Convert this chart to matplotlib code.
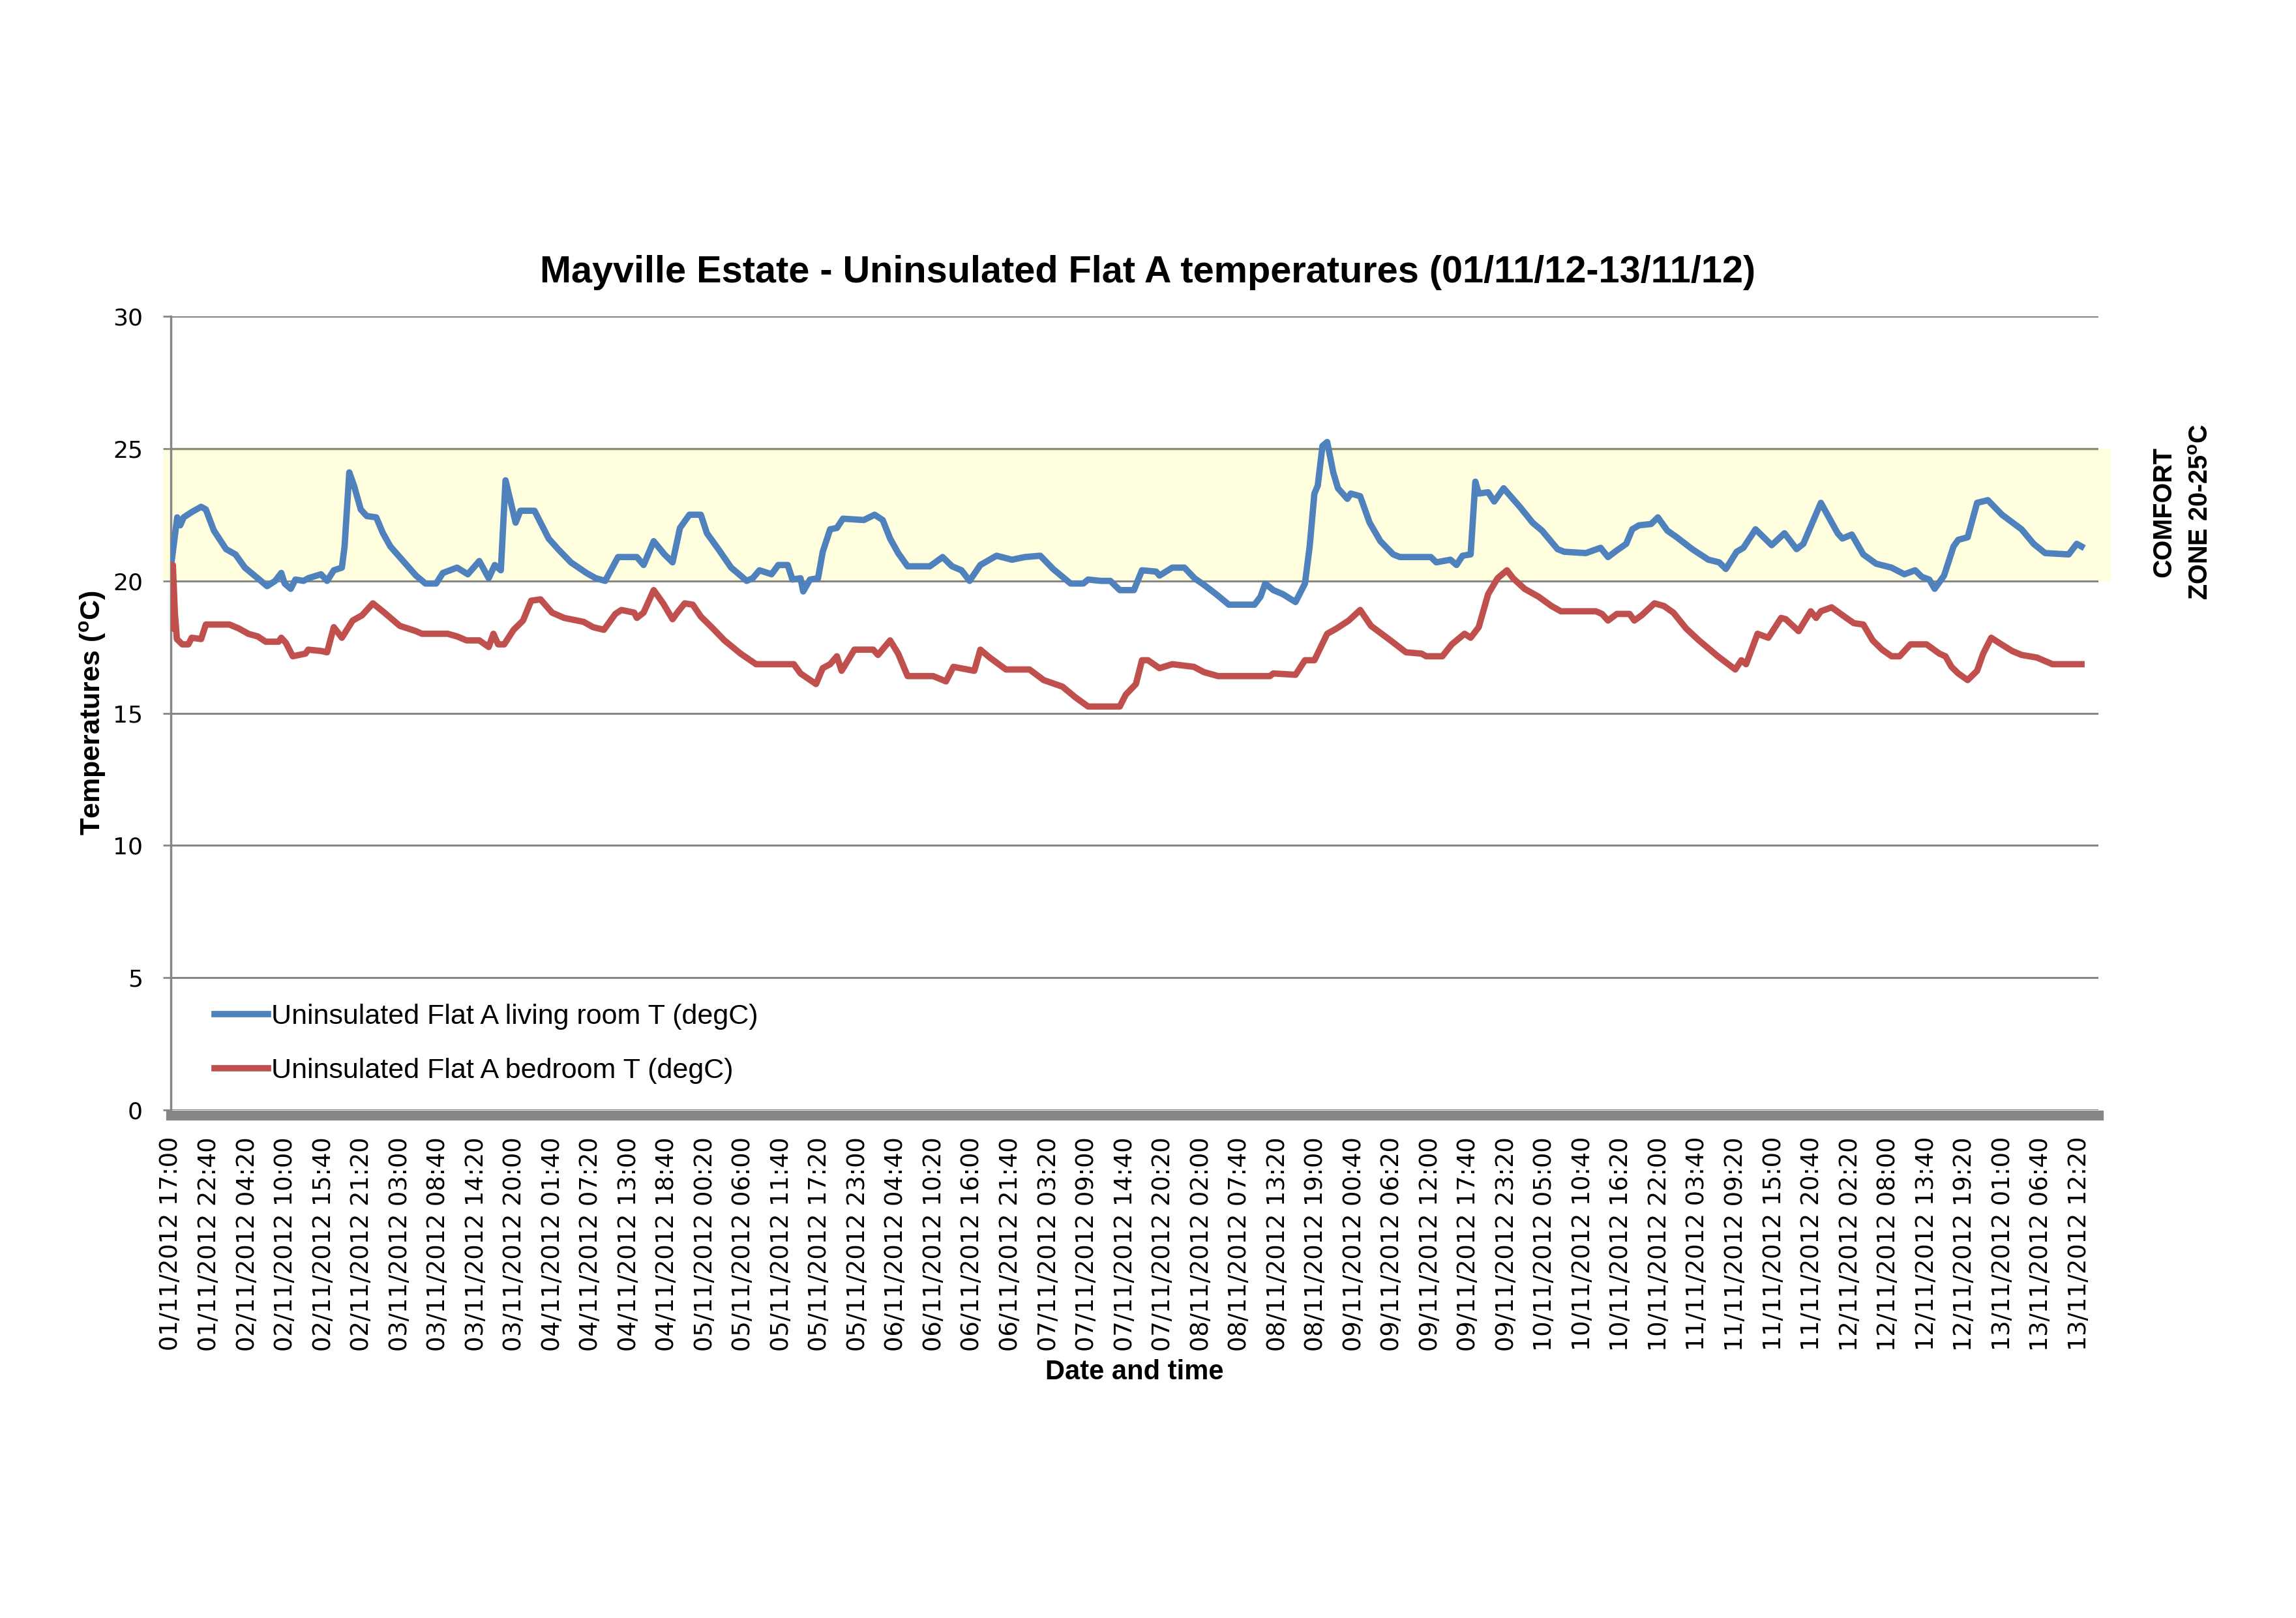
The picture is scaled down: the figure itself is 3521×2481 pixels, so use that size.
import matplotlib
matplotlib.use('Agg')
import matplotlib.pyplot as plt
from matplotlib import font_manager
import numpy as np
import pandas as pd

# --- DATA (hours after 01/11/2012 17:00, temperature degC) ---
START = pd.Timestamp('2012-11-01 17:00')

living_t = [0.0, 0.95, 1.4, 1.9, 3.1, 4.5, 5.2, 6.4, 8.2, 9.6, 11.0, 12.9, 14.3, 15.5, 16.4, 16.9,
            17.8, 18.5, 19.7, 20.4, 22.3, 23.2, 24.2, 25.4, 25.8, 26.5, 27.2, 28.2, 29.1, 30.5, 31.5,
            32.6, 34.5, 36.4, 37.8, 39.4, 40.4, 42.5, 44.1, 45.8, 47.2, 48.1, 49.0, 49.7, 51.2, 51.9,
            54.0, 56.1, 57.5, 59.4, 61.7, 63.1, 64.5, 66.4, 69.2, 70.2, 71.7, 73.3, 74.5, 75.6, 77.0,
            78.7, 79.6, 81.3, 83.2, 84.6, 85.5, 86.4, 87.4, 89.2, 90.2, 91.6, 92.3, 93.5, 93.9, 94.9,
            96.1, 96.8, 97.9, 98.9, 99.8, 102.9, 104.5, 105.7, 106.8, 108.0, 109.4, 112.7, 114.6,
            116.0, 117.4, 118.6, 120.2, 122.6, 124.9, 126.8, 129.1, 131.0, 133.6, 135.5, 136.2, 138.1,
            139.5, 140.9, 143.0, 144.2, 146.3, 146.8, 148.7, 150.5, 152.0, 153.4, 155.2, 157.1, 160.9,
            161.8, 162.5, 163.7, 165.1, 167.0, 168.4, 169.1, 169.8, 170.3, 171.0, 171.7, 172.6, 173.3,
            174.7, 175.2, 176.6, 178.0, 179.6, 181.5, 182.5, 187.1, 187.9, 190.0, 190.9, 191.8, 193.0,
            193.7, 194.2, 195.6, 196.5, 197.9, 200.3, 202.2, 203.6, 205.9, 206.9, 210.1, 212.3, 213.4,
            214.7, 216.1, 217.0, 218.0, 219.8, 220.8, 222.2, 223.6, 225.9, 228.3, 229.9, 230.9, 232.5,
            233.5, 235.3, 237.7, 239.6, 241.4, 242.4, 245.0, 247.5, 248.2, 249.6, 251.3, 253.2, 255.5,
            257.4, 259.0, 260.0, 261.1, 261.9, 263.3, 264.7, 265.4, 266.8, 268.2, 269.8, 271.9, 274.8,
            276.6, 278.3, 281.8, 283.0, 283.7]
living_T = [20.5, 22.4, 22.1, 22.4, 22.6, 22.8, 22.7, 21.9, 21.2, 21.0, 20.5, 20.1, 19.8, 20.0, 20.3, 19.9,
            19.7, 20.05, 20.0, 20.1, 20.25, 20.0, 20.4, 20.5, 21.3, 24.1, 23.6, 22.7, 22.45, 22.4, 21.8,
            21.3, 20.75, 20.2, 19.9, 19.9, 20.3, 20.5, 20.25, 20.75, 20.1, 20.6, 20.4, 23.8, 22.2, 22.65,
            22.65, 21.6, 21.2, 20.7, 20.3, 20.1, 20.0, 20.9, 20.9, 20.6, 21.5, 21.0, 20.7, 22.0, 22.5,
            22.5, 21.8, 21.2, 20.5, 20.2, 20.0, 20.1, 20.4, 20.25, 20.6, 20.6, 20.05, 20.1, 19.6, 20.05,
            20.1, 21.1, 21.95, 22.0, 22.35, 22.3, 22.5, 22.3, 21.6, 21.05, 20.55, 20.55, 20.9,
            20.55, 20.4, 20.0, 20.6, 20.95, 20.8, 20.9, 20.95, 20.45, 19.9, 19.9, 20.05, 20.0,
            20.0, 19.65, 19.65, 20.4, 20.35, 20.2, 20.5, 20.5, 20.1, 19.85, 19.5, 19.1, 19.1,
            19.4, 19.9, 19.65, 19.5, 19.2, 19.9, 21.3, 23.3, 23.6, 25.1, 25.25, 24.1, 23.5,
            23.1, 23.3, 23.2, 22.2, 21.5, 21.0, 20.9, 20.9, 20.7, 20.8, 20.6, 20.95, 21.0,
            23.75, 23.3, 23.35, 23.0, 23.5, 22.8, 22.2, 21.9, 21.2, 21.1, 21.05, 21.25, 20.9,
            21.15, 21.4, 21.95, 22.1, 22.15, 22.4, 21.9, 21.65, 21.2, 20.8, 20.7, 20.45, 21.1,
            21.25, 21.95, 21.35, 21.8, 21.2, 21.4, 22.95, 21.8, 21.6, 21.75, 21.0, 20.65, 20.5,
            20.25, 20.4, 20.15, 20.05, 19.7, 20.2, 21.3, 21.55, 21.65, 22.95, 23.05, 22.5, 21.95,
            21.4, 21.05, 21.0, 21.4, 21.3]

bed_t = [0.0, 0.3, 0.6, 0.9, 1.7, 2.6, 3.1, 4.5, 5.2, 8.7, 10.1, 11.5, 12.9, 14.1, 16.0, 16.4, 17.1,
         18.1, 20.0, 20.4, 22.3, 23.2, 24.2, 25.4, 27.0, 28.4, 30.0, 31.7, 34.0, 36.4, 37.3, 41.1,
         42.5, 43.9, 45.8, 47.2, 47.9, 48.6, 49.5, 50.9, 52.3, 53.5, 54.9, 56.6, 58.4, 61.3, 62.7,
         64.3, 66.0, 66.9, 68.8, 69.2, 70.2, 71.7, 73.1, 74.5, 75.2, 76.3, 77.5, 78.7, 80.3, 82.2,
         84.6, 86.9, 92.5, 93.5, 95.8, 96.8, 97.9, 98.9, 99.6, 101.5, 104.3, 105.0, 106.8, 108.0,
         109.4, 113.2, 115.1, 116.2, 119.3, 120.2, 121.6, 124.0, 127.5, 129.6, 132.4, 134.3, 136.2,
         140.9, 141.8, 143.3, 144.2, 145.1, 146.8, 148.7, 151.9, 153.4, 155.5, 163.2, 163.7, 167.0,
         168.4, 169.8, 171.7, 173.1, 174.9, 176.6, 178.2, 181.1, 183.4, 185.7, 186.4, 188.8, 190.2,
         192.1, 193.0, 194.2, 195.6, 197.0, 198.4, 199.3, 201.0, 203.1, 205.0, 206.4, 211.6, 212.5,
         213.4, 214.7, 216.6, 217.3, 218.4, 220.3, 221.7, 223.1, 225.0, 226.9, 229.7, 232.3, 233.2,
         233.9, 235.6, 237.2, 239.1, 239.8, 241.7, 243.5, 244.3, 245.0, 246.6, 248.5, 249.9, 251.3,
         252.7, 254.1, 255.5, 256.7, 258.3, 260.7, 262.6, 263.5, 264.4, 265.4, 266.8, 268.2, 269.1,
         270.3, 271.5, 273.4, 274.8, 277.1, 278.0, 279.4, 283.7]
bed_T = [18.2, 20.6, 18.8, 17.8, 17.6, 17.6, 17.85, 17.8, 18.35, 18.35, 18.2, 18.0, 17.9, 17.7, 17.7, 17.85, 17.65,
         17.15, 17.25, 17.4, 17.35, 17.3, 18.25, 17.85, 18.5, 18.7, 19.15, 18.8, 18.3, 18.1, 18.0, 18.0,
         17.9, 17.75, 17.75, 17.5, 18.0, 17.6, 17.6, 18.15, 18.5, 19.25, 19.3, 18.8, 18.6, 18.45, 18.25,
         18.15, 18.75, 18.9, 18.8, 18.6, 18.8, 19.65, 19.15, 18.55, 18.8, 19.15, 19.1, 18.65, 18.25, 17.75,
         17.25, 16.85, 16.85, 16.5, 16.1, 16.7, 16.85, 17.15, 16.6, 17.4, 17.4, 17.2, 17.75, 17.25,
         16.4, 16.4, 16.2, 16.75, 16.6, 17.4, 17.1, 16.65, 16.65, 16.25, 16.0, 15.6, 15.25,
         15.25, 15.7, 16.1, 17.0, 17.0, 16.7, 16.85, 16.75, 16.55, 16.4, 16.4, 16.5, 16.45,
         17.0, 17.0, 18.0, 18.2, 18.5, 18.9, 18.3, 17.75, 17.3, 17.25, 17.15, 17.15, 17.6,
         18.0, 17.85, 18.25, 19.5, 20.1, 20.4, 20.1, 19.7, 19.4, 19.05, 18.85, 18.85, 18.75,
         18.5, 18.75, 18.75, 18.5, 18.7, 19.15, 19.05, 18.8, 18.2, 17.75, 17.15, 16.65, 17.0,
         16.85, 18.0, 17.85, 18.6, 18.55, 18.1, 18.85, 18.6, 18.85, 19.0, 18.65, 18.4, 18.35,
         17.75, 17.4, 17.15, 17.15, 17.6, 17.6, 17.25, 17.15, 16.75, 16.5, 16.25, 16.6, 17.25,
         17.85, 17.65, 17.35, 17.2, 17.1, 17.0, 16.85, 16.85]

series_names = ['Uninsulated Flat A living room T (degC)', 'Uninsulated Flat A bedroom T (degC)']
series_colors = ['#4F81BD', '#C0504D']

# tick labels every 5h40 from 01/11/2012 17:00 to 13/11/2012 12:20
tick_hours = np.arange(51) * 340 / 60.0
tick_labels = [(START + pd.Timedelta(minutes=340 * k)).strftime('%d/%m/%Y %H:%M') for k in range(51)]


def pick_font(names):
    for n in names:
        try:
            font_manager.findfont(n, fallback_to_default=False)
            return n
        except Exception:
            pass
    return 'DejaVu Sans'


NARROW = pick_font(['Liberation Sans Narrow', 'Liberation Sans'])
GRID = '#868686'

fig = plt.figure(figsize=(35.21, 24.81), dpi=100)
ax = fig.add_axes([0.0744, 0.314, 0.8395, 0.4905])

# comfort zone band
ax.axhspan(20, 25, xmin=-0.004, xmax=1.006, color='#FFFFE0', zorder=0, clip_on=False)

ax.plot(living_t, living_T, color=series_colors[0], lw=7, label=series_names[0], zorder=3,
        solid_joinstyle='round')
ax.plot(bed_t, bed_T, color=series_colors[1], lw=7, label=series_names[1], zorder=4,
        solid_joinstyle='round')

ax.set_xlim(0, 286.2)
ax.set_ylim(0, 30)
ax.set_yticks([0, 5, 10, 15, 20, 25, 30])
ax.yaxis.grid(True, color=GRID, lw=2.2, zorder=1)
ax.set_axisbelow(True)
ax.axhline(25, color='#8E8E72', lw=2.4, zorder=1.5)

ax.set_xticks(tick_hours)
ax.set_xticklabels(tick_labels)
ax.tick_params(axis='x', length=0, pad=24, labelrotation=90, labelsize=26.5)
ax.tick_params(axis='y', labelsize=26, length=9, width=2, color=GRID, pad=22, direction='out')
for lab in ax.get_xticklabels() + ax.get_yticklabels():
    lab.set_family('DejaVu Sans')

for s in ['top', 'right']:
    ax.spines[s].set_visible(False)
ax.spines['left'].set_color(GRID)
ax.spines['left'].set_linewidth(2.5)
ax.spines['bottom'].set_color(GRID)
ax.spines['bottom'].set_linewidth(11)
ax.spines['bottom'].set_position(('outward', 5.5))

ax.set_xlabel('Date and time', fontsize=30, fontweight='bold', family=NARROW)
ax.xaxis.label.set_va('center')
ax.xaxis.set_label_coords(0.5, -0.330)
ax.set_ylabel(r'Temperatures ($\mathregular{^{o}}$C)', fontsize=31, fontweight='bold',
              family=NARROW, labelpad=6)

fig.text(0.4998, 0.8315, 'Mayville Estate - Uninsulated Flat A temperatures (01/11/12-13/11/12)',
         ha='center', va='center', fontsize=41.5, fontweight='bold', family=NARROW)

fig.text(0.9425, 0.6835, 'COMFORT', rotation=90, ha='center', va='center',
         fontsize=28.5, fontweight='bold', family='Liberation Sans')
fig.text(0.9585, 0.6835, r'ZONE 20-25$\mathregular{^{o}}$C', rotation=90, ha='center', va='center',
         fontsize=28.5, fontweight='bold', family='Liberation Sans')

leg = ax.legend(loc='upper left', bbox_to_anchor=(0.017, 0.148), frameon=False,
                prop={'family': NARROW, 'size': 31}, handlelength=1.9, handletextpad=0.1,
                labelspacing=1.0, borderaxespad=0)
for line in leg.get_lines():
    line.set_linewidth(7)

fig.savefig('out.png', dpi=100)
